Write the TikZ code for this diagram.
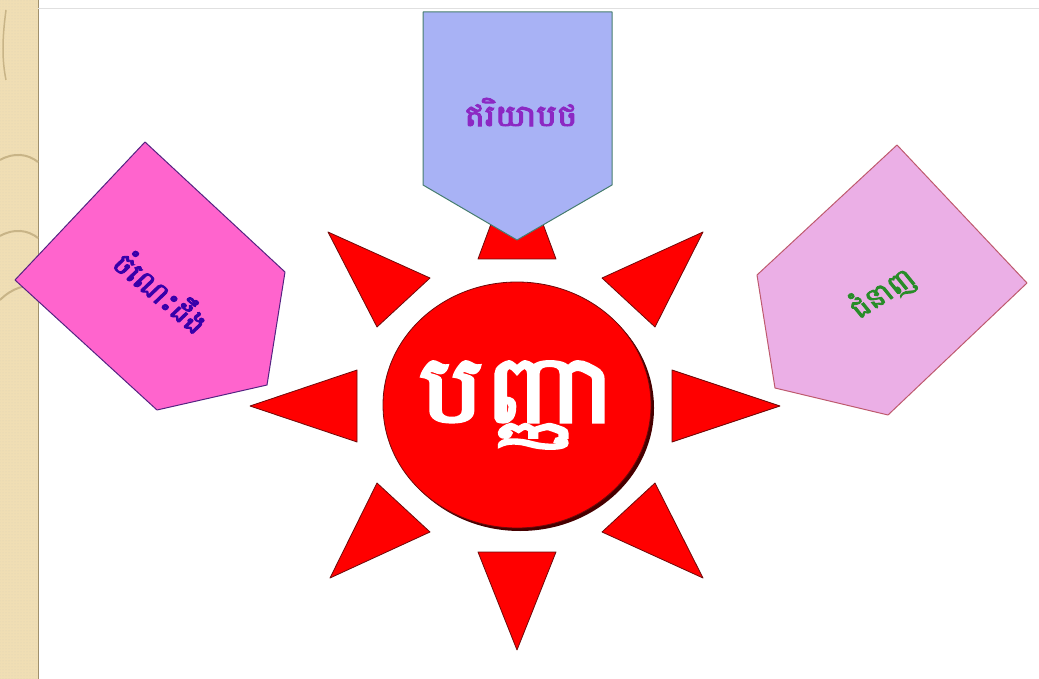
\documentclass[tikz,border=0pt]{standalone}
\usepackage{fontspec}
\newfontfamily\khmerfont[Script=Khmer,FakeBold=3]{Battambang}
\usetikzlibrary{patterns}

\definecolor{rayred}{RGB}{255,0,0}
\definecolor{rayedge}{RGB}{110,10,10}
\definecolor{shadowred}{RGB}{70,0,0}
\definecolor{topfill}{RGB}{168,178,245}
\definecolor{topedge}{RGB}{70,125,110}
\definecolor{leftfill}{RGB}{255,100,205}
\definecolor{leftedge}{RGB}{85,35,130}
\definecolor{rightfill}{RGB}{235,175,230}
\definecolor{rightedge}{RGB}{190,90,110}
\definecolor{stripbeige}{RGB}{240,222,180}
\definecolor{stripcurve}{RGB}{200,180,135}
\definecolor{toptext}{RGB}{140,40,195}
\definecolor{lefttext}{RGB}{55,0,170}
\definecolor{righttext}{RGB}{40,140,40}

\begin{document}
\begin{tikzpicture}[x=1pt, y=-1pt,
    ray/.style={fill=rayred, draw=rayedge, line width=0.8pt, line join=round},
    topbox/.style={fill=topfill, draw=topedge, line width=1pt, line join=round},
    leftbox/.style={fill=leftfill, draw=leftedge, line width=1pt, line join=round},
    rightbox/.style={fill=rightfill, draw=rightedge, line width=1pt, line join=round},
    word/.style={font=\khmerfont, inner sep=0pt}
]
\useasboundingbox (0,0) rectangle (1039,679);

% left strip
\fill[stripbeige] (0,0) rectangle (38,679);
\fill[pattern=dots, pattern color=stripcurve!60] (0,0) rectangle (38,679);
\draw[stripcurve!80!black, line width=1pt] (38,0) -- (38,679);
\draw[black!12, line width=1pt] (38,9) -- (1039,9);
\draw[stripcurve, line width=2pt] (0,160) .. controls (14,152) and (28,154) .. (38,162);
\draw[stripcurve, line width=2pt] (0,236) .. controls (14,228) and (28,230) .. (38,238);
\draw[stripcurve, line width=2pt] (0,300) .. controls (12,288) and (26,284) .. (38,286);
\draw[stripcurve, line width=1.5pt] (6,10) .. controls (2,40) and (2,60) .. (6,80);

% rays
\coordinate (c) at (517,405);
\draw[ray] (517,154) -- (556,259) -- (478,259) -- cycle;
\draw[ray] (328,232) -- (430,278) -- (377,327) -- cycle;
\draw[ray] (703,232) -- (602,278) -- (655,327) -- cycle;
\draw[ray] (250,406) -- (357,370) -- (357,442) -- cycle;
\draw[ray] (780,406) -- (672,370) -- (672,442) -- cycle;
\draw[ray] (330,578) -- (430,532) -- (377,483) -- cycle;
\draw[ray] (703,578) -- (602,532) -- (655,483) -- cycle;
\draw[ray] (517,650) -- (556,552) -- (478,552) -- cycle;

% sun
\fill[shadowred] ([shift={(3,3)}]c) ellipse[x radius=134, y radius=123];
\draw[ray] (c) ellipse[x radius=134, y radius=123];
\node[word, font=\khmerfont\fontsize{95}{95}\selectfont, text=white, xscale=1.15] (sun) at (517,405)
    {បញ្ញា};

% pentagons
\draw[topbox] (423,12) -- (612,12) -- (612,185) -- (517,240) -- (423,185) -- cycle;
\draw[leftbox] (145,142) -- (285,272) -- (267,385) -- (157,410) -- (15,280) -- cycle;
\draw[rightbox] (897,145) -- (1027,283) -- (888,415) -- (775,388) -- (757,275) -- cycle;

\node[word, font=\khmerfont\fontsize{30}{30}\selectfont, text=toptext, xscale=1.15] (attitude) at (521,112)
    {ឥរិយាបថ};
\node[word, font=\khmerfont\fontsize{28}{28}\selectfont, text=lefttext, xscale=1.12, rotate=-43] (knowledge) at (163,291)
    {ចំណេះដឹង};
\node[word, font=\khmerfont\fontsize{27}{27}\selectfont, text=righttext, xscale=1.12, rotate=36] (skill) at (882,293)
    {ជំនាញ};
\end{tikzpicture}
\end{document}
